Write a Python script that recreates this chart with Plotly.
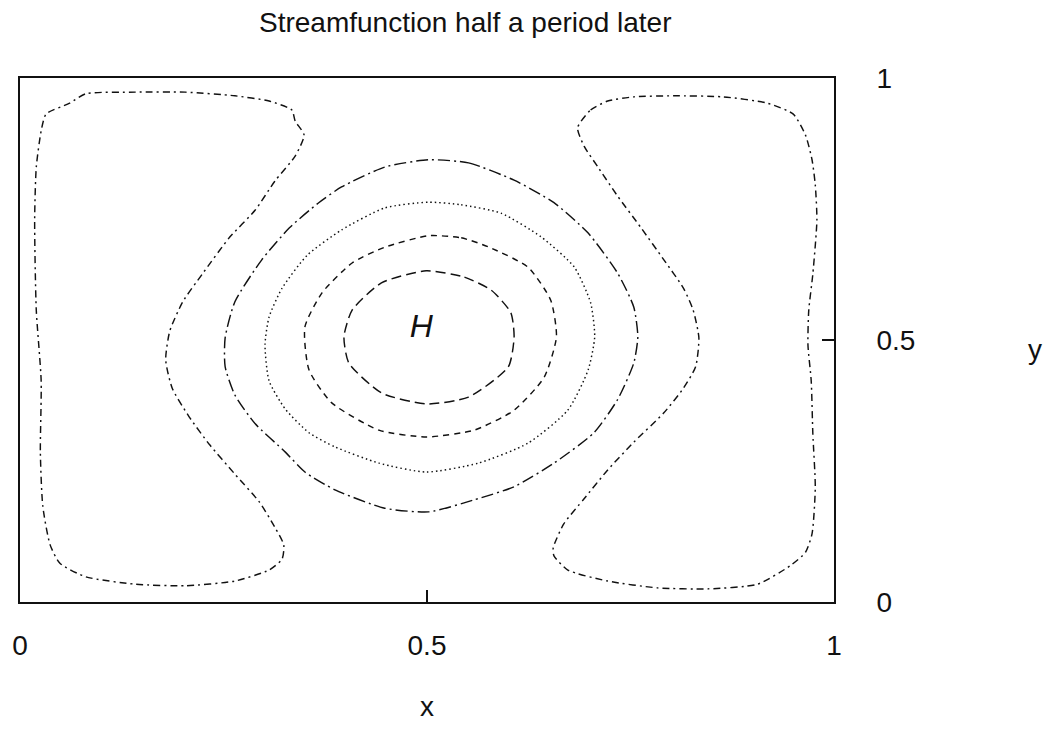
import plotly.graph_objects as go

# ---- contour data (x, y in [0,1]) ----
# innermost closed contour (long dashes)
c1_x = [0.499, 0.546, 0.579, 0.603, 0.607, 0.600, 0.551, 0.499, 0.444, 0.404, 0.398, 0.408, 0.444, 0.499]
c1_y = [0.632, 0.620, 0.595, 0.552, 0.506, 0.449, 0.391, 0.378, 0.399, 0.456, 0.506, 0.557, 0.609, 0.632]

# second contour (short dashes)
c2_x = [0.502, 0.542, 0.575, 0.624, 0.652, 0.659, 0.644, 0.607, 0.558, 0.499, 0.441, 0.383, 0.355, 0.350, 0.371, 0.408, 0.448, 0.502]
c2_y = [0.699, 0.695, 0.678, 0.639, 0.576, 0.506, 0.429, 0.366, 0.328, 0.315, 0.328, 0.380, 0.443, 0.525, 0.590, 0.647, 0.677, 0.699]

# third contour (dotted)
c3_x = [0.502, 0.542, 0.591, 0.640, 0.681, 0.701, 0.706, 0.698, 0.673, 0.624, 0.563, 0.499, 0.441, 0.387, 0.355, 0.326,
        0.306, 0.301, 0.306, 0.322, 0.353, 0.395, 0.448, 0.502]
c3_y = [0.763, 0.758, 0.742, 0.697, 0.639, 0.571, 0.506, 0.443, 0.366, 0.303, 0.265, 0.248, 0.265, 0.296, 0.323, 0.368,
        0.422, 0.491, 0.544, 0.599, 0.662, 0.710, 0.752, 0.763]

# fourth contour (long dash - dot)
c4_x = [0.502, 0.551, 0.607, 0.656, 0.698, 0.734, 0.754, 0.759, 0.754, 0.734, 0.705, 0.656, 0.607, 0.558, 0.502, 0.448,
        0.387, 0.350, 0.326, 0.289, 0.264, 0.252, 0.252, 0.264, 0.297, 0.331, 0.367, 0.395, 0.448, 0.502]
c4_y = [0.844, 0.838, 0.805, 0.762, 0.704, 0.628, 0.563, 0.506, 0.456, 0.386, 0.323, 0.265, 0.220, 0.195, 0.172, 0.179,
        0.214, 0.248, 0.286, 0.340, 0.395, 0.449, 0.504, 0.573, 0.653, 0.714, 0.762, 0.792, 0.830, 0.844]

# outer left loop (dash - dot)
left_x = [0.349, 0.338, 0.334, 0.306, 0.264, 0.203, 0.142, 0.081, 0.061, 0.032, 0.026, 0.020, 0.018, 0.020, 0.026, 0.025,
          0.028, 0.037, 0.049, 0.081, 0.142, 0.203, 0.264, 0.306, 0.322, 0.324, 0.313, 0.294, 0.264, 0.233, 0.208, 0.187,
          0.179, 0.184, 0.200, 0.224, 0.257, 0.289, 0.313, 0.338, 0.349]
left_y = [0.891, 0.918, 0.939, 0.956, 0.966, 0.973, 0.973, 0.970, 0.952, 0.931, 0.899, 0.830, 0.729, 0.557, 0.422, 0.286,
          0.183, 0.109, 0.074, 0.048, 0.034, 0.031, 0.040, 0.061, 0.082, 0.109, 0.143, 0.191, 0.244, 0.300, 0.353, 0.408,
          0.462, 0.517, 0.573, 0.626, 0.695, 0.748, 0.803, 0.851, 0.891]

# outer right loop (dash - dot)
right_x = [0.685, 0.701, 0.722, 0.754, 0.803, 0.864, 0.918, 0.950, 0.965, 0.973, 0.977, 0.979, 0.974, 0.969, 0.968, 0.972,
           0.974, 0.977, 0.973, 0.965, 0.946, 0.906, 0.845, 0.783, 0.722, 0.673, 0.656, 0.655, 0.668, 0.693, 0.722, 0.754,
           0.791, 0.815, 0.830, 0.834, 0.827, 0.815, 0.791, 0.763, 0.734, 0.710, 0.693, 0.685]
right_y = [0.905, 0.939, 0.956, 0.964, 0.966, 0.964, 0.952, 0.931, 0.891, 0.844, 0.796, 0.729, 0.626, 0.557, 0.491, 0.422,
           0.321, 0.218, 0.130, 0.095, 0.069, 0.034, 0.025, 0.027, 0.040, 0.061, 0.088, 0.103, 0.149, 0.197, 0.252, 0.305,
           0.361, 0.408, 0.449, 0.504, 0.557, 0.599, 0.653, 0.714, 0.775, 0.830, 0.870, 0.905]

# centre marker
h_x = [0.493]
h_y = [0.521]
h_label = ["H"]

tick_vals = [0, 0.5, 1]
tick_text = ["0", "0.5", "1"]

title_text = "Streamfunction half a period later"
x_title = "x"
y_title = "y"

FONT = "Liberation Sans, Arial, Helvetica, sans-serif"
INK = "#111111"

contours = [
    (c1_x, c1_y, "10px,5px"),
    (c2_x, c2_y, "6px,5px"),
    (c3_x, c3_y, "1.5px,3px"),
    (c4_x, c4_y, "12px,4px,2px,4px"),
    (left_x, left_y, "7px,4px,2px,4px"),
    (right_x, right_y, "7px,4px,2px,4px"),
]

fig = go.Figure()
for xs, ys, dash in contours:
    fig.add_trace(go.Scatter(
        x=xs, y=ys, mode="lines",
        line=dict(color=INK, width=1.45, dash=dash, shape="spline", smoothing=0.6),
        hoverinfo="skip", showlegend=False,
    ))

fig.add_trace(go.Scatter(
    x=h_x, y=h_y, mode="text", text=["<i>" + t + "</i>" for t in h_label],
    textfont=dict(family=FONT, size=32, color=INK),
    hoverinfo="skip", showlegend=False,
))

axis_common = dict(
    range=[0, 1], showgrid=False, zeroline=False,
    showline=True, mirror=True, linecolor=INK, linewidth=1.8,
    tickmode="array", tickvals=tick_vals, ticktext=tick_text,
    ticks="inside", ticklen=12, tickwidth=1.5, tickcolor=INK,
    tickfont=dict(family=FONT, size=28, color=INK),
    fixedrange=True,
)

fig.update_layout(
    width=1047, height=747,
    margin=dict(l=17, r=213, t=78, b=145, pad=0),
    paper_bgcolor="white", plot_bgcolor="white",
    showlegend=False,
    xaxis=dict(**axis_common, ticklabelstandoff=17),
    yaxis=dict(**axis_common, side="right", ticklabelstandoff=35),
    annotations=[
        dict(text=title_text, xref="paper", yref="paper", x=0.547, y=1.105,
             showarrow=False, xanchor="center", yanchor="middle",
             font=dict(family=FONT, size=28, color=INK)),
        dict(text=x_title, xref="paper", yref="paper", x=0.4994, y=-0.1985,
             showarrow=False, xanchor="center", yanchor="middle",
             font=dict(family=FONT, size=28, color=INK)),
        dict(text=y_title, xref="paper", yref="paper", x=1.2473, y=0.4828,
             showarrow=False, xanchor="center", yanchor="middle",
             font=dict(family=FONT, size=28, color=INK)),
    ],
)

fig.write_html("out.html")
